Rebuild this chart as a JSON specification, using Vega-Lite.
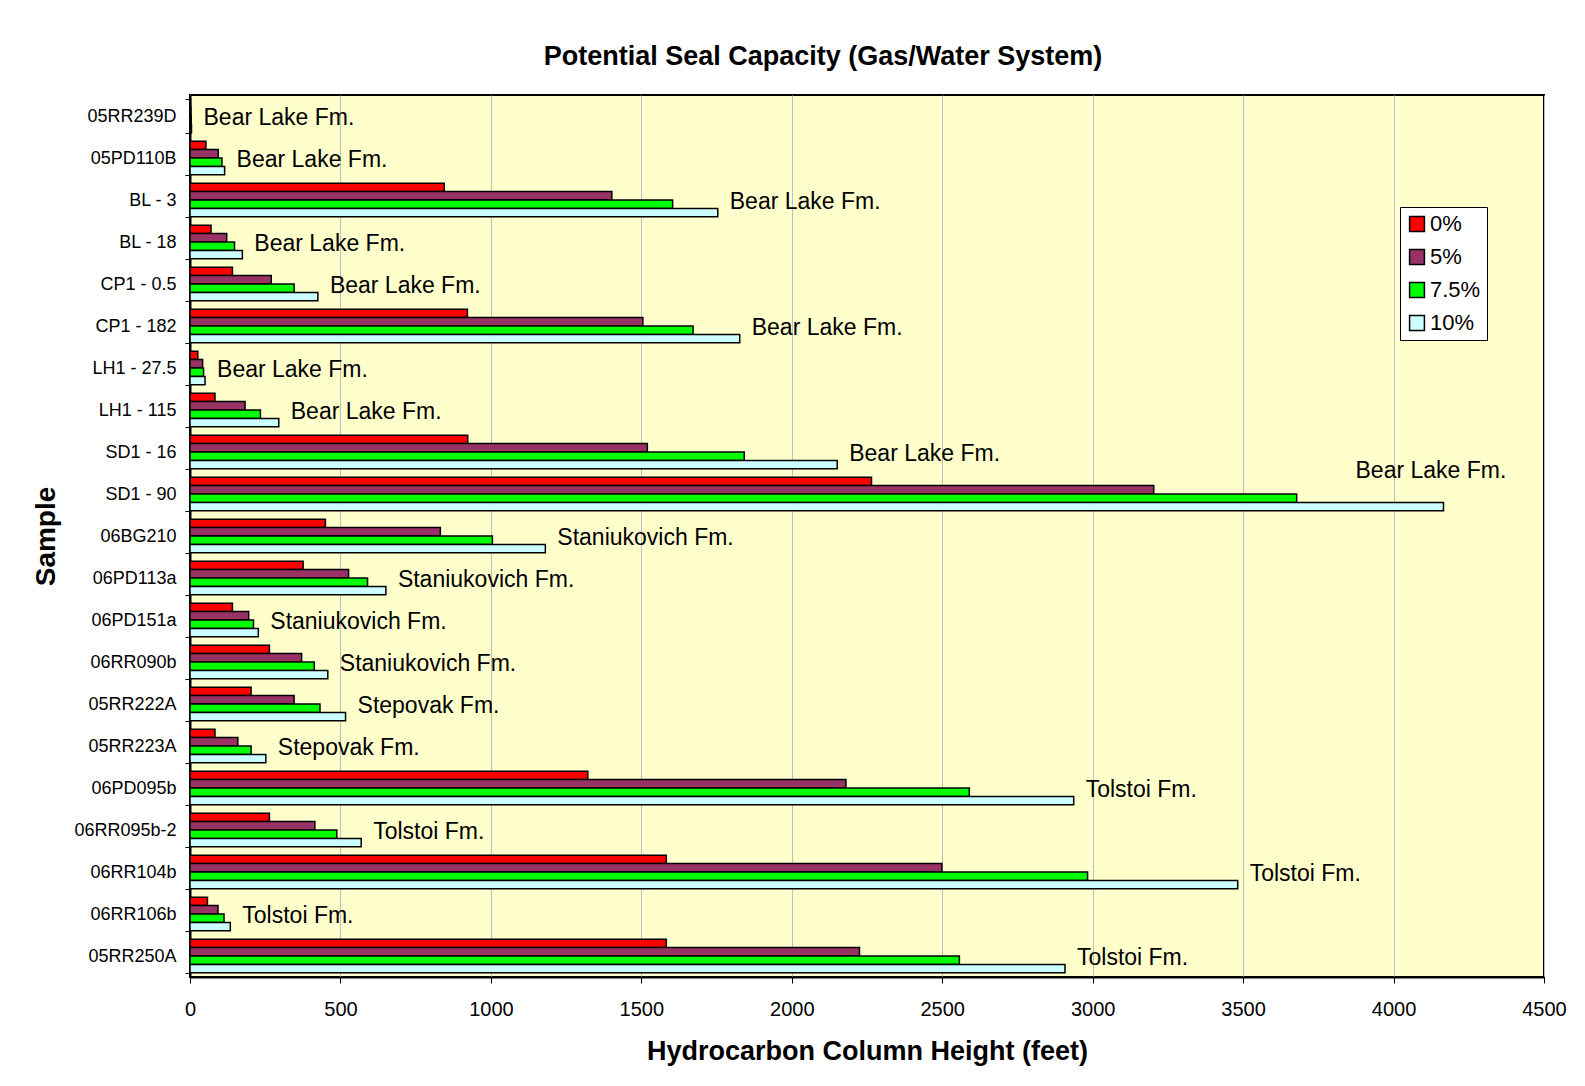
{
  "$schema": "https://vega.github.io/schema/vega-lite/v6.json",
  "width": 1354,
  "height": 882,
  "autosize": {"type": "none"},
  "padding": {"left": 190, "top": 95, "right": 41, "bottom": 109},
  "background": "white",
  "title": {
    "text": "Potential Seal Capacity (Gas/Water System)",
    "font": "Liberation Sans",
    "fontSize": 27,
    "fontWeight": "bold",
    "color": "black",
    "anchor": "middle",
    "dx": -44,
    "offset": 15
  },
  "data": {
    "values": [
      {"s": "05RR239D", "f": "Bear Lake Fm.", "w": "0%", "h": 2},
      {"s": "05RR239D", "f": "Bear Lake Fm.", "w": "5%", "h": 3},
      {"s": "05RR239D", "f": "Bear Lake Fm.", "w": "7.5%", "h": 4},
      {"s": "05RR239D", "f": "Bear Lake Fm.", "w": "10%", "h": 5},
      {"s": "05PD110B", "f": "Bear Lake Fm.", "w": "0%", "h": 53},
      {"s": "05PD110B", "f": "Bear Lake Fm.", "w": "5%", "h": 94},
      {"s": "05PD110B", "f": "Bear Lake Fm.", "w": "7.5%", "h": 106},
      {"s": "05PD110B", "f": "Bear Lake Fm.", "w": "10%", "h": 115},
      {"s": "BL - 3", "f": "Bear Lake Fm.", "w": "0%", "h": 845},
      {"s": "BL - 3", "f": "Bear Lake Fm.", "w": "5%", "h": 1402},
      {"s": "BL - 3", "f": "Bear Lake Fm.", "w": "7.5%", "h": 1604},
      {"s": "BL - 3", "f": "Bear Lake Fm.", "w": "10%", "h": 1754},
      {"s": "BL - 18", "f": "Bear Lake Fm.", "w": "0%", "h": 70},
      {"s": "BL - 18", "f": "Bear Lake Fm.", "w": "5%", "h": 122},
      {"s": "BL - 18", "f": "Bear Lake Fm.", "w": "7.5%", "h": 148},
      {"s": "BL - 18", "f": "Bear Lake Fm.", "w": "10%", "h": 174},
      {"s": "CP1 - 0.5", "f": "Bear Lake Fm.", "w": "0%", "h": 141},
      {"s": "CP1 - 0.5", "f": "Bear Lake Fm.", "w": "5%", "h": 270},
      {"s": "CP1 - 0.5", "f": "Bear Lake Fm.", "w": "7.5%", "h": 346},
      {"s": "CP1 - 0.5", "f": "Bear Lake Fm.", "w": "10%", "h": 425},
      {"s": "CP1 - 182", "f": "Bear Lake Fm.", "w": "0%", "h": 922},
      {"s": "CP1 - 182", "f": "Bear Lake Fm.", "w": "5%", "h": 1505},
      {"s": "CP1 - 182", "f": "Bear Lake Fm.", "w": "7.5%", "h": 1672},
      {"s": "CP1 - 182", "f": "Bear Lake Fm.", "w": "10%", "h": 1827},
      {"s": "LH1 - 27.5", "f": "Bear Lake Fm.", "w": "0%", "h": 26},
      {"s": "LH1 - 27.5", "f": "Bear Lake Fm.", "w": "5%", "h": 42},
      {"s": "LH1 - 27.5", "f": "Bear Lake Fm.", "w": "7.5%", "h": 45},
      {"s": "LH1 - 27.5", "f": "Bear Lake Fm.", "w": "10%", "h": 50},
      {"s": "LH1 - 115", "f": "Bear Lake Fm.", "w": "0%", "h": 83},
      {"s": "LH1 - 115", "f": "Bear Lake Fm.", "w": "5%", "h": 183},
      {"s": "LH1 - 115", "f": "Bear Lake Fm.", "w": "7.5%", "h": 234},
      {"s": "LH1 - 115", "f": "Bear Lake Fm.", "w": "10%", "h": 295},
      {"s": "SD1 - 16", "f": "Bear Lake Fm.", "w": "0%", "h": 923},
      {"s": "SD1 - 16", "f": "Bear Lake Fm.", "w": "5%", "h": 1520},
      {"s": "SD1 - 16", "f": "Bear Lake Fm.", "w": "7.5%", "h": 1842},
      {"s": "SD1 - 16", "f": "Bear Lake Fm.", "w": "10%", "h": 2151},
      {"s": "SD1 - 90", "f": "Bear Lake Fm.", "w": "0%", "h": 2265},
      {"s": "SD1 - 90", "f": "Bear Lake Fm.", "w": "5%", "h": 3203},
      {"s": "SD1 - 90", "f": "Bear Lake Fm.", "w": "7.5%", "h": 3678},
      {"s": "SD1 - 90", "f": "Bear Lake Fm.", "w": "10%", "h": 4166},
      {"s": "06BG210", "f": "Staniukovich Fm.", "w": "0%", "h": 450},
      {"s": "06BG210", "f": "Staniukovich Fm.", "w": "5%", "h": 832},
      {"s": "06BG210", "f": "Staniukovich Fm.", "w": "7.5%", "h": 1005},
      {"s": "06BG210", "f": "Staniukovich Fm.", "w": "10%", "h": 1181},
      {"s": "06PD113a", "f": "Staniukovich Fm.", "w": "0%", "h": 376},
      {"s": "06PD113a", "f": "Staniukovich Fm.", "w": "5%", "h": 527},
      {"s": "06PD113a", "f": "Staniukovich Fm.", "w": "7.5%", "h": 590},
      {"s": "06PD113a", "f": "Staniukovich Fm.", "w": "10%", "h": 651},
      {"s": "06PD151a", "f": "Staniukovich Fm.", "w": "0%", "h": 141},
      {"s": "06PD151a", "f": "Staniukovich Fm.", "w": "5%", "h": 195},
      {"s": "06PD151a", "f": "Staniukovich Fm.", "w": "7.5%", "h": 211},
      {"s": "06PD151a", "f": "Staniukovich Fm.", "w": "10%", "h": 227},
      {"s": "06RR090b", "f": "Staniukovich Fm.", "w": "0%", "h": 264},
      {"s": "06RR090b", "f": "Staniukovich Fm.", "w": "5%", "h": 371},
      {"s": "06RR090b", "f": "Staniukovich Fm.", "w": "7.5%", "h": 413},
      {"s": "06RR090b", "f": "Staniukovich Fm.", "w": "10%", "h": 458},
      {"s": "05RR222A", "f": "Stepovak Fm.", "w": "0%", "h": 203},
      {"s": "05RR222A", "f": "Stepovak Fm.", "w": "5%", "h": 346},
      {"s": "05RR222A", "f": "Stepovak Fm.", "w": "7.5%", "h": 432},
      {"s": "05RR222A", "f": "Stepovak Fm.", "w": "10%", "h": 517},
      {"s": "05RR223A", "f": "Stepovak Fm.", "w": "0%", "h": 83},
      {"s": "05RR223A", "f": "Stepovak Fm.", "w": "5%", "h": 159},
      {"s": "05RR223A", "f": "Stepovak Fm.", "w": "7.5%", "h": 203},
      {"s": "05RR223A", "f": "Stepovak Fm.", "w": "10%", "h": 252},
      {"s": "06PD095b", "f": "Tolstoi Fm.", "w": "0%", "h": 1322},
      {"s": "06PD095b", "f": "Tolstoi Fm.", "w": "5%", "h": 2180},
      {"s": "06PD095b", "f": "Tolstoi Fm.", "w": "7.5%", "h": 2590},
      {"s": "06PD095b", "f": "Tolstoi Fm.", "w": "10%", "h": 2937},
      {"s": "06RR095b-2", "f": "Tolstoi Fm.", "w": "0%", "h": 264},
      {"s": "06RR095b-2", "f": "Tolstoi Fm.", "w": "5%", "h": 415},
      {"s": "06RR095b-2", "f": "Tolstoi Fm.", "w": "7.5%", "h": 488},
      {"s": "06RR095b-2", "f": "Tolstoi Fm.", "w": "10%", "h": 569},
      {"s": "06RR104b", "f": "Tolstoi Fm.", "w": "0%", "h": 1583},
      {"s": "06RR104b", "f": "Tolstoi Fm.", "w": "5%", "h": 2499},
      {"s": "06RR104b", "f": "Tolstoi Fm.", "w": "7.5%", "h": 2983},
      {"s": "06RR104b", "f": "Tolstoi Fm.", "w": "10%", "h": 3482},
      {"s": "06RR106b", "f": "Tolstoi Fm.", "w": "0%", "h": 58},
      {"s": "06RR106b", "f": "Tolstoi Fm.", "w": "5%", "h": 93},
      {"s": "06RR106b", "f": "Tolstoi Fm.", "w": "7.5%", "h": 113},
      {"s": "06RR106b", "f": "Tolstoi Fm.", "w": "10%", "h": 134},
      {"s": "05RR250A", "f": "Tolstoi Fm.", "w": "0%", "h": 1583},
      {"s": "05RR250A", "f": "Tolstoi Fm.", "w": "5%", "h": 2225},
      {"s": "05RR250A", "f": "Tolstoi Fm.", "w": "7.5%", "h": 2557},
      {"s": "05RR250A", "f": "Tolstoi Fm.", "w": "10%", "h": 2908}
    ]
  },
  "encoding": {
    "y": {
      "field": "s",
      "type": "nominal",
      "sort": null,
      "scale": {"paddingInner": 0.2, "paddingOuter": 0.1},
      "axis": {
        "title": "Sample",
        "titleFont": "Liberation Sans",
        "titleFontSize": 28,
        "titleFontWeight": "bold",
        "titleColor": "black",
        "titlePadding": 13,
        "labelFont": "Liberation Sans",
        "labelFontSize": 18,
        "labelColor": "black",
        "labelPadding": 9,
        "tickBand": "extent",
        "tickSize": 5,
        "tickColor": "black",
        "domainColor": "black",
        "domainWidth": 2,
        "grid": false
      }
    },
    "x": {
      "field": "h",
      "type": "quantitative",
      "scale": {"domain": [0, 4500], "nice": false},
      "axis": {
        "title": "Hydrocarbon Column Height (feet)",
        "titleFont": "Liberation Sans",
        "titleFontSize": 27,
        "titleFontWeight": "bold",
        "titleColor": "black",
        "titlePadding": 19,
        "labelFont": "Liberation Sans",
        "labelFontSize": 20,
        "labelColor": "black",
        "labelPadding": 16,
        "labelFlush": false,
        "labelOverlap": false,
        "values": [0, 500, 1000, 1500, 2000, 2500, 3000, 3500, 4000, 4500],
        "format": "d",
        "tickSize": 6,
        "tickColor": "black",
        "domainColor": "black",
        "domainWidth": 2,
        "grid": true,
        "gridColor": "#BFBFBF",
        "gridWidth": 1
      }
    }
  },
  "layer": [
    {
      "mark": {"type": "bar", "stroke": "black", "strokeWidth": 1.5},
      "encoding": {
        "yOffset": {"field": "w", "type": "nominal", "sort": null},
        "color": {
          "field": "w",
          "type": "nominal",
          "sort": null,
          "scale": {
            "domain": ["0%", "5%", "7.5%", "10%"],
            "range": ["#FF0000", "#993366", "#00FF00", "#CCFFFF"]
          },
          "legend": {
            "title": null,
            "orient": "none",
            "legendX": 1210,
            "legendY": 112,
            "fillColor": "white",
            "strokeColor": "black",
            "padding": 6,
            "symbolType": "square",
            "symbolSize": 220,
            "symbolStrokeColor": "black",
            "symbolStrokeWidth": 1.5,
            "symbolOpacity": 1,
            "labelFont": "Liberation Sans",
            "labelFontSize": 22,
            "labelColor": "black",
            "labelOffset": 2,
            "rowPadding": 11
          }
        }
      }
    },
    {
      "transform": [{"filter": "datum.w == '10%' && datum.s != 'SD1 - 90'"}],
      "mark": {
        "type": "text",
        "align": "left",
        "baseline": "middle",
        "dx": 12,
        "dy": 2,
        "font": "Liberation Sans",
        "fontSize": 23,
        "color": "black"
      },
      "encoding": {"text": {"field": "f"}}
    },
    {
      "transform": [{"filter": "datum.w == '10%' && datum.s == 'SD1 - 90'"}],
      "mark": {
        "type": "text",
        "align": "left",
        "baseline": "middle",
        "dx": -88,
        "dy": -23,
        "font": "Liberation Sans",
        "fontSize": 23,
        "color": "black"
      },
      "encoding": {"text": {"field": "f"}}
    }
  ],
  "config": {
    "view": {"fill": "#FFFFCC", "stroke": "black", "strokeWidth": 2}
  }
}
